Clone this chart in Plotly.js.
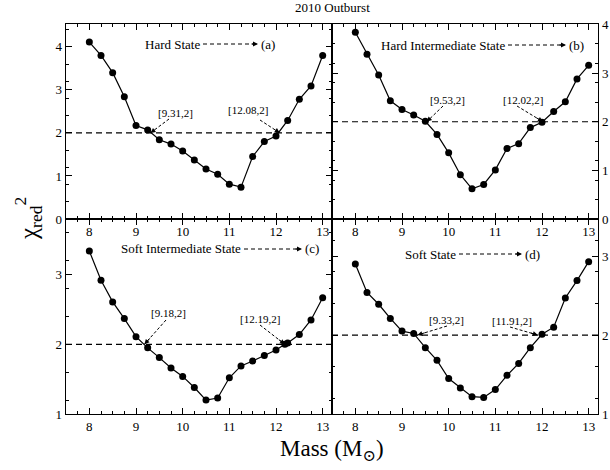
<!DOCTYPE html>
<html><head><meta charset="utf-8">
<script src="https://cdn.plot.ly/plotly-3.0.1.min.js"></script>
<style>html,body{margin:0;padding:0;background:#fff}#chart{width:610px;height:470px}</style>
</head><body><div id="chart"></div>
<script>
// ---- data ----
const massGrid = [8,8.25,8.5,8.75,9,9.25,9.5,9.75,10,10.25,10.5,10.75,11,11.25,11.5,11.75,12,12.25,12.5,12.75,13];
const chiHard = [4.11,3.80,3.40,2.84,2.17,2.07,1.84,1.74,1.58,1.37,1.16,1.04,0.81,0.74,1.45,1.80,1.93,2.29,2.78,3.09,3.80];
const chiHardInt = [3.84,3.39,2.96,2.43,2.25,2.14,2.01,1.74,1.36,0.91,0.62,0.71,1.01,1.45,1.55,1.88,1.99,2.21,2.41,2.88,3.16];
const massSoftInt = [8,8.25,8.5,8.75,9,9.25,9.5,9.75,10,10.25,10.5,10.75,11,11.25,11.5,11.75,12,12.19,12.25,12.5,12.75,13];
const chiSoftInt = [3.34,2.92,2.61,2.37,2.11,1.95,1.81,1.66,1.54,1.38,1.20,1.23,1.52,1.69,1.76,1.84,1.92,2.00,2.02,2.14,2.35,2.67];
const chiSoft = [2.90,2.54,2.39,2.21,2.05,2.02,1.84,1.68,1.45,1.33,1.22,1.21,1.31,1.49,1.64,1.84,2.01,2.10,2.47,2.69,2.93];
const stateNames = ["Hard State","Hard Intermediate State","Soft Intermediate State","Soft State"];
const panelTags = ["(a)","(b)","(c)","(d)"];
const crossLow = [9.31,9.53,9.18,9.33];
const crossHigh = [12.08,12.02,12.19,11.91];
const chiLevel = 2;

// ---- layout helpers ----
const FONT = "'Liberation Serif', 'DejaVu Serif', serif";
const W=610,H=470, M={l:66,r:12,t:24,b:56};
const XR=[7.5,13.2];
const YR=[[0,4.53],[0,4.01],[1,3.8],[1,3.47]];
const pw=(W-M.l-M.r)/2, ph=(H-M.t-M.b)/2;
const panL=[M.l, M.l+pw, M.l, M.l+pw];
const panT=[M.t, M.t, M.t+ph, M.t+ph];
function px2x(p,px){return XR[0]+(px-panL[p])/pw*(XR[1]-XR[0]);}
function py2y(p,py){const r=YR[p];return r[0]+(panT[p]+ph-py)/ph*(r[1]-r[0]);}

const xs=[massGrid,massGrid,massSoftInt,massGrid];
const ys=[chiHard,chiHardInt,chiSoftInt,chiSoft];
const ax=[["x","y"],["x2","y2"],["x3","y3"],["x4","y4"]];

const traces = ys.map((y,i)=>({
  x: xs[i], y: y, xaxis: ax[i][0], yaxis: ax[i][1], type:'scatter', mode:'lines+markers',
  line:{color:'#000',width:1.2}, marker:{color:'#000',size:7}, showlegend:false, hoverinfo:'skip'
}));

function xaxisDef(dom, anchor){
  return {domain:dom, anchor:anchor, range:XR, tick0:8, dtick:1, ticks:'inside', ticklen:6, tickwidth:1,
    tickcolor:'#000', showline:true, linecolor:'#000', linewidth:1.3, mirror:'ticks', showgrid:false, zeroline:false,
    minor:{dtick:0.25, tick0:8, ticks:'inside', ticklen:3, tickcolor:'#000', showgrid:false},
    tickfont:{family:FONT,size:13,color:'#000'}};
}
function yaxisDef(dom, anchor, r, side){
  return {domain:dom, anchor:anchor, range:r, dtick:1, tick0:0, side:side, ticks:'inside', ticklen:6, tickwidth:1,
    tickcolor:'#000', showline:true, linecolor:'#000', linewidth:1.3, mirror:'ticks', showgrid:false, zeroline:false,
    minor:{dtick:0.4, tick0:0, ticks:'inside', ticklen:3, tickcolor:'#000', showgrid:false},
    tickfont:{family:FONT,size:13,color:'#000'}};
}

const shapes=[], annotations=[];
for(let i=0;i<4;i++){
  const xr = i===0?'x':'x'+(i+1), yr = i===0?'y':'y'+(i+1);
  shapes.push({type:'line', xref:xr+' domain', yref:yr, x0:0, x1:1, y0:chiLevel, y1:chiLevel,
    line:{color:'#000',width:1.2,dash:'6px,4px'}});
}
const stateLbl=[[202,44,258],[507,45,566],[243,249,302],[458,254,522]];
const PW=W-M.l-M.r, PH=H-M.t-M.b;
for(let i=0;i<4;i++){
  const [xe,yc,tip]=stateLbl[i];
  const yp=(H-M.b-yc)/PH;
  annotations.push({xref:'paper',yref:'paper', x:(xe-M.l)/PW, y:yp,
    xanchor:'right', yanchor:'middle', text:stateNames[i], showarrow:false, font:{family:FONT,size:13,color:'#000'}});
  annotations.push({xref:'paper',yref:'paper', x:(tip+1-M.l)/PW, y:yp,
    xanchor:'left', yanchor:'middle', text:panelTags[i], showarrow:false, font:{family:FONT,size:13,color:'#000'}});
  shapes.push({type:'line', xref:'paper', yref:'paper', x0:(xe+1-M.l)/PW, x1:(tip-4-M.l)/PW,
    y0:yp, y1:yp, line:{color:'#000',width:1,dash:'4px,3px'}});
  annotations.push({xref:'paper',yref:'paper', x:(tip-M.l)/PW, y:yp,
    ax:-8, ay:0, text:'', showarrow:true, arrowhead:2, arrowsize:1, arrowwidth:1, arrowcolor:'#000'});
}
const brk=[
  [[175,113,169,119],[248,110,260,120]],
  [[447,100,443,106],[523,100,517,106]],
  [[168,313,166,320],[260,319,260,325]],
  [[446,320,447,326],[512,321,510,327]]
];
for(let i=0;i<4;i++){
  const xr = i===0?'x':'x'+(i+1), yr = i===0?'y':'y'+(i+1);
  [crossLow[i],crossHigh[i]].forEach((cx,k)=>{
    const b=brk[i][k];
    annotations.push({xref:xr,yref:yr,x:px2x(i,b[0]),y:py2y(i,b[1]),text:'['+cx+','+chiLevel+']',
      showarrow:false,font:{family:FONT,size:11,color:'#000'}});
    const sx=px2x(i,b[2]), sy=py2y(i,b[3]);
    shapes.push({type:'line',xref:xr,yref:yr,x0:sx,y0:sy,x1:cx,y1:chiLevel,line:{color:'#000',width:1,dash:'3px,2px'}});
    annotations.push({xref:xr,yref:yr,x:cx,y:chiLevel,axref:xr,ayref:yr,ax:cx+(sx-cx)*0.3,ay:chiLevel+(sy-chiLevel)*0.3,
      text:'',showarrow:true,arrowhead:2,arrowsize:1,arrowwidth:1,arrowcolor:'#000'});
  });
}
annotations.push({xref:'paper',yref:'paper',x:0.5,y:1,yanchor:'bottom',yshift:7,showarrow:false,text:'2010 Outburst',
  font:{family:FONT,size:13,color:'#000'}});
annotations.push({xref:'paper',yref:'paper',x:0.5,y:0,yanchor:'top',yshift:-20,showarrow:false,text:'Mass (M<sub>⊙</sub>)',
  font:{family:FONT,size:23,color:'#000'}});
annotations.push({xref:'paper',yref:'paper',x:0,y:0.5,xanchor:'center',xshift:-38,textangle:-90,showarrow:false,
  text:'χ<sub>red</sub><sup>2</sup>', font:{family:FONT,size:25,color:'#000'}});

const layout={
  width:W,height:H,margin:M,paper_bgcolor:'#fff',plot_bgcolor:'#fff',showlegend:false,
  font:{family:FONT,color:'#000'},
  xaxis:xaxisDef([0,0.5],'y'), yaxis:yaxisDef([0.5,1],'x',YR[0],'left'),
  xaxis2:xaxisDef([0.5,1],'y2'), yaxis2:yaxisDef([0.5,1],'x2',YR[1],'right'),
  xaxis3:xaxisDef([0,0.5],'y3'), yaxis3:yaxisDef([0,0.5],'x3',YR[2],'left'),
  xaxis4:xaxisDef([0.5,1],'y4'), yaxis4:yaxisDef([0,0.5],'x4',YR[3],'right'),
  shapes:shapes, annotations:annotations
};
Plotly.newPlot('chart',traces,layout,{displayModeBar:false,staticPlot:true});
</script></body></html>
